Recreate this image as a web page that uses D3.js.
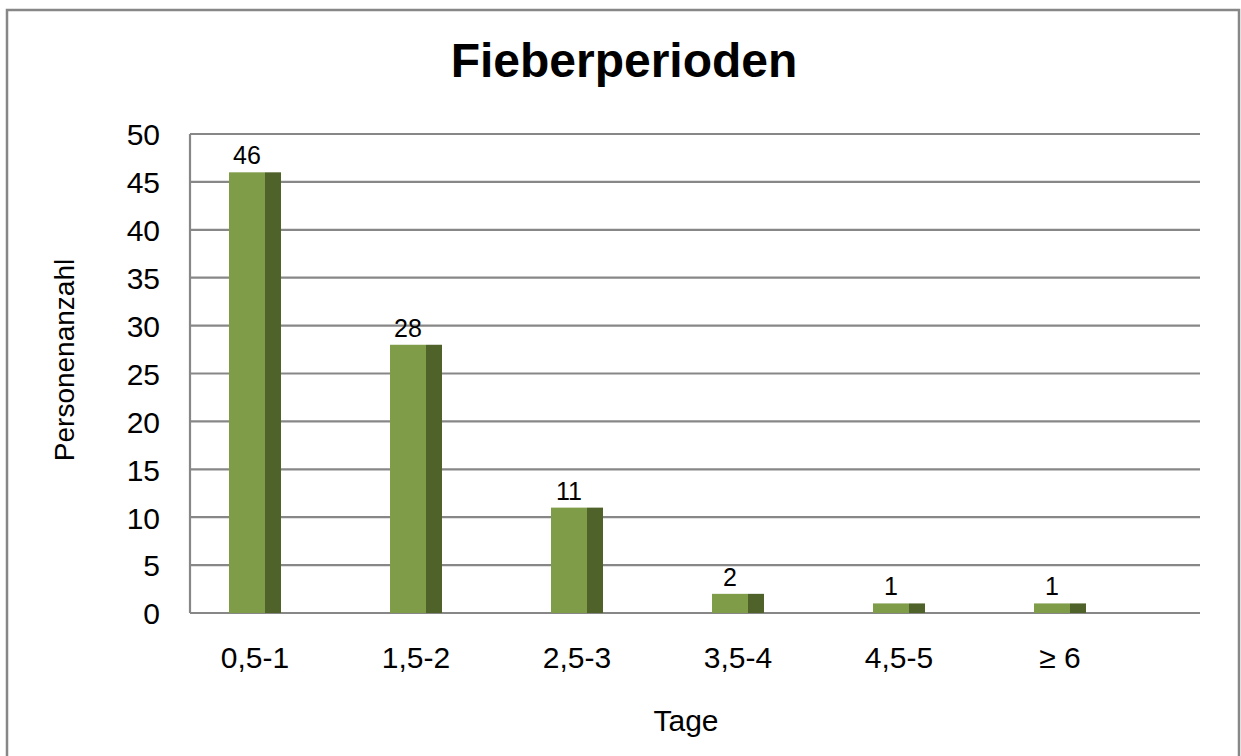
<!DOCTYPE html>
<html><head><meta charset="utf-8">
<script src="https://cdn.jsdelivr.net/npm/d3@7"></script>
<style>body{margin:0;background:#fff}svg{display:block;font-family:"Liberation Sans",Arial,sans-serif}</style>
</head><body><svg id="c" width="1241" height="756"></svg>
<script>
const categories = ["0,5-1","1,5-2","2,5-3","3,5-4","4,5-5","≥ 6"];
const values = [46,28,11,2,1,1];
const yTicks = [0,5,10,15,20,25,30,35,40,45,50];
const title = "Fieberperioden";
const xTitle = "Tage";
const yTitle = "Personenanzahl";

const FONT = "Liberation Sans, Arial, sans-serif";
const svg = d3.select("#c");
svg.append("rect").attr("x",7).attr("y",10).attr("width",1232).attr("height",760)
  .attr("fill","#fff").attr("stroke","#878787").attr("stroke-width",2.5);

const y = d3.scaleLinear().domain([0,50]).range([613,134]);
const x = d3.scaleBand().domain(categories).range([174.5,1140.5]);
const gridX0 = 190, gridX1 = 1200;

// gridlines
svg.append("g").selectAll("line").data(yTicks).join("line")
  .attr("x1",gridX0).attr("x2",gridX1).attr("y1",d=>y(d)).attr("y2",d=>y(d))
  .attr("stroke","#878787").attr("stroke-width",2.2);
svg.append("line").attr("x1",gridX0).attr("x2",gridX0).attr("y1",y(50)).attr("y2",y(0))
  .attr("stroke","#878787").attr("stroke-width",2.2);

// y axis labels
const yAxis = d3.axisLeft(y).tickValues(yTicks).tickSize(0).tickPadding(0);
const ya = svg.append("g").attr("transform","translate(160,0)").call(yAxis);
ya.select(".domain").remove();
ya.selectAll("text").attr("font-size",30).attr("fill","#000").attr("font-family",FONT).attr("dy","0.36em");

// bars
const frontW = 36, sideW = 16;
const g = svg.append("g");
categories.forEach((c,i)=>{
  const cx = x(c) + x.bandwidth()/2;
  const x0 = cx - (frontW+sideW)/2;
  g.append("rect").attr("x",x0).attr("y",y(values[i])).attr("width",frontW).attr("height",y(0)-y(values[i])).attr("fill","#7f9c49");
  g.append("rect").attr("x",x0+frontW).attr("y",y(values[i])).attr("width",sideW).attr("height",y(0)-y(values[i])).attr("fill","#4f6229");
  g.append("text").attr("x",x0+frontW/2).attr("y",y(values[i])-8).attr("text-anchor","middle")
    .attr("font-size",25).attr("fill","#000").text(values[i]);
});

// x axis labels
const xAxis = d3.axisBottom(x).tickSize(0).tickPadding(0);
const xa = svg.append("g").attr("transform","translate(0,668)").call(xAxis);
xa.select(".domain").remove();
xa.selectAll("text").attr("font-size",30).attr("fill","#000").attr("font-family",FONT).attr("dy","0");

svg.append("text").attr("x",624).attr("y",77).attr("text-anchor","middle").attr("font-size",48).attr("font-weight","bold").text(title);
svg.append("text").attr("x",686).attr("y",731).attr("text-anchor","middle").attr("font-size",30).text(xTitle);
svg.append("text").attr("transform","translate(74,360) rotate(-90)").attr("text-anchor","middle").attr("font-size",28).text(yTitle);
</script></body></html>
